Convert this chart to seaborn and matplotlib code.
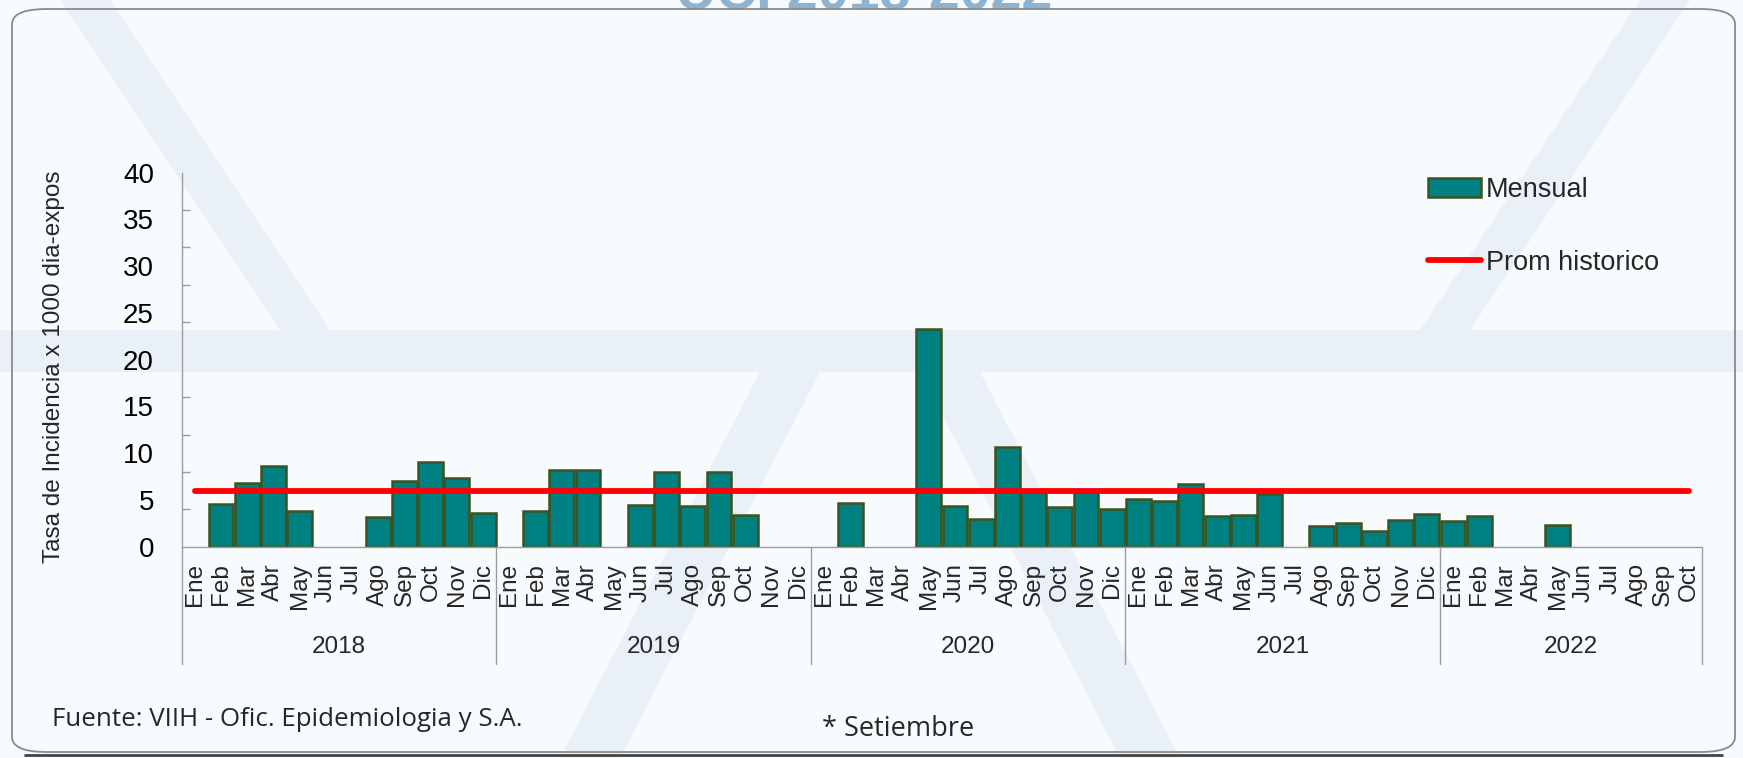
import numpy as np
import pandas as pd
import matplotlib
matplotlib.use("Agg")
import matplotlib.pyplot as plt
import seaborn as sns
from matplotlib.patches import Patch, FancyBboxPatch, Rectangle, Polygon
from matplotlib.lines import Line2D
from matplotlib.ticker import MultipleLocator

nan = np.nan

# ---------------- data ----------------
years = ["2018", "2019", "2020", "2021", "2022"]
months_per_year = [12, 12, 12, 12, 10]
month_names = ["Ene", "Feb", "Mar", "Abr", "May", "Jun",
               "Jul", "Ago", "Sep", "Oct", "Nov", "Dic"]

tasa_2018 = [nan, 4.57, 6.86, 8.68, 3.86, nan, nan, 3.14, 7.00, 9.10, 7.32, 3.57]
tasa_2019 = [nan, 3.86, 8.18, 8.18, nan, 4.46, 7.99, 4.38, 7.99, 3.35, nan, nan]
tasa_2020 = [nan, 4.63, nan, nan, 23.28, 4.38, 2.96, 10.70, 5.90, 4.28, 5.90, 4.03]
tasa_2021 = [5.10, 4.90, 6.71, 3.25, 3.35, 5.65, nan, 2.21, 2.49, 1.71, 2.89, 3.53]
tasa_2022 = [2.78, 3.28, nan, nan, 2.32, nan, nan, nan, nan, nan]
prom_historico = 5.96

series_label = "Mensual"
line_label = "Prom historico"
ylabel = "Tasa de Incidencia x 1000 dia-expos"
fuente = "Fuente: VIIH - Ofic. Epidemiologia y S.A."
nota = "* Setiembre"
titulo = "UCI 2018-2022"

# ---------------- build table ----------------
all_vals = tasa_2018 + tasa_2019 + tasa_2020 + tasa_2021 + tasa_2022
mes_lbl, anio_lbl = [], []
for y, n in zip(years, months_per_year):
    mes_lbl += month_names[:n]
    anio_lbl += [y] * n
df = pd.DataFrame({"idx": np.arange(len(all_vals)), "mes": mes_lbl,
                   "anio": anio_lbl, "tasa": all_vals})

# ---------------- style ----------------
sns.set_theme(style="white")
plt.rcParams["font.family"] = ["Liberation Sans", "DejaVu Sans"]

BG = "#f8fbfd"
WM = "#eaf0f8"
TEAL = "#008080"
EDGE = "#3b5320"
GRAY = "#9c9c9c"

W, H = 1743, 758
fig = plt.figure(figsize=(W / 100, H / 100), dpi=100, facecolor=BG)

def fx(px):
    return px / W

def fy(py):
    return 1 - py / H

# faint watermark shapes (behind everything)
wm = [
    Rectangle((0, fy(372)), 1, (372 - 330) / H),
    Polygon([(fx(60), fy(0)), (fx(110), fy(0)), (fx(330), fy(330)),
             (fx(280), fy(330))], closed=True),
    Polygon([(fx(1690), fy(0)), (fx(1640), fy(0)), (fx(1420), fy(330)),
             (fx(1470), fy(330))], closed=True),
    Polygon([(fx(560), fy(758)), (fx(620), fy(758)), (fx(820), fy(372)),
             (fx(760), fy(372))], closed=True),
    Polygon([(fx(1180), fy(758)), (fx(1120), fy(758)), (fx(920), fy(372)),
             (fx(980), fy(372))], closed=True),
]
for p in wm:
    p.set_transform(fig.transFigure)
    p.set_facecolor(WM)
    p.set_edgecolor("none")
    p.set_zorder(-10)
    fig.add_artist(p)

# rounded frame
frame = FancyBboxPatch((fx(12), fy(752)), fx(1723), (752 - 9) / H,
                       boxstyle="round,pad=0,rounding_size=0.02",
                       transform=fig.transFigure, facecolor="none",
                       edgecolor="#8a8a8a", linewidth=1.3, zorder=1)
fig.add_artist(frame)
fig.add_artist(Line2D([fx(25), fx(1722)], [fy(755), fy(755)],
                      transform=fig.transFigure, color="#444444", lw=2.0))

# partially visible title at top (cut by the top edge, as in the reference)
fig.text(0.496, fy(22), titulo, ha="center", va="bottom",
         fontsize=40, fontweight="bold", color="#8fb3cf", zorder=0)

# ---------------- axes ----------------
ax_left, ax_right = 181.7, 1702
ax_top, ax_bot = 172.7, 546.7
ax = fig.add_axes([fx(ax_left), fy(ax_bot), fx(ax_right - ax_left),
                   (ax_bot - ax_top) / H])
ax.set_facecolor("none")
ax.set_zorder(5)

sns.barplot(data=df, x="idx", y="tasa", color=TEAL, saturation=1,
            width=0.95, edgecolor=EDGE, linewidth=1.8, ax=ax,
            errorbar=None, zorder=2)

n = len(df)
ax.hlines(prom_historico, df["idx"].iloc[0], df["idx"].iloc[-1],
          color="#ff0000", linewidth=4.2, zorder=3, capstyle="round")

ax.set_xlim(-0.5, n - 0.5)
ax.set_ylim(0, 40)

# y axis: labels every 5, tick marks every 4 (inward)
ax.yaxis.set_major_locator(MultipleLocator(5))
ax.yaxis.set_minor_locator(MultipleLocator(4))
ax.tick_params(axis="y", which="major", length=0, pad=20, labelsize=20,
               labelcolor="black")
ax.tick_params(axis="y", which="minor", direction="in", length=6,
               width=1, color=GRAY, left=True)

# x axis: month labels
ax.set_xticks(df["idx"])
ax.set_xticklabels(df["mes"], rotation=90, fontsize=17.5)
ax.tick_params(axis="x", length=0, pad=12)
ax.set_xlabel("")

ax.set_ylabel(ylabel, fontsize=17.5)
ax.yaxis.set_label_coords(-0.077, 0.48)

for s in ["top", "right"]:
    ax.spines[s].set_visible(False)
for s in ["left", "bottom"]:
    ax.spines[s].set_color(GRAY)
    ax.spines[s].set_linewidth(1.0)

# year group separators and labels
axh = ax_bot - ax_top
sep_bottom = -(664 - ax_bot) / axh
year_y = -(647 - ax_bot) / axh
trans = ax.get_xaxis_transform()
start = 0
bounds = [-0.5]
for y, m in zip(years, months_per_year):
    end = start + m
    bounds.append(end - 0.5)
    ax.text((start + end - 1) / 2, year_y, y, transform=trans,
            ha="center", va="center", fontsize=17.5)
    start = end
for b in bounds:
    ax.plot([b, b], [0, sep_bottom], transform=trans, color=GRAY,
            lw=1.0, clip_on=False)

# legend
handles = [Patch(facecolor=TEAL, edgecolor=EDGE, linewidth=1.8, label=series_label),
           Line2D([0], [0], color="#ff0000", lw=4.2, solid_capstyle="round",
                  label=line_label)]
leg = fig.legend(handles=handles, loc="upper left",
                 bbox_to_anchor=(fx(1428), fy(177)), frameon=False,
                 fontsize=19.5, handlelength=1.95, handleheight=0.7,
                 handletextpad=0.2, labelspacing=1.72, borderpad=0,
                 borderaxespad=0)
leg.set_zorder(6)

# footer texts
fig.text(fx(52), fy(720), fuente, ha="left", va="center",
         fontsize=18.6, family=["Open Sans", "DejaVu Sans"], zorder=6)
fig.text(fx(822), fy(729), nota, ha="left", va="center",
         fontsize=19.5, family=["Open Sans", "DejaVu Sans"], zorder=6)

fig.savefig("out.png", dpi=100, facecolor=BG)
